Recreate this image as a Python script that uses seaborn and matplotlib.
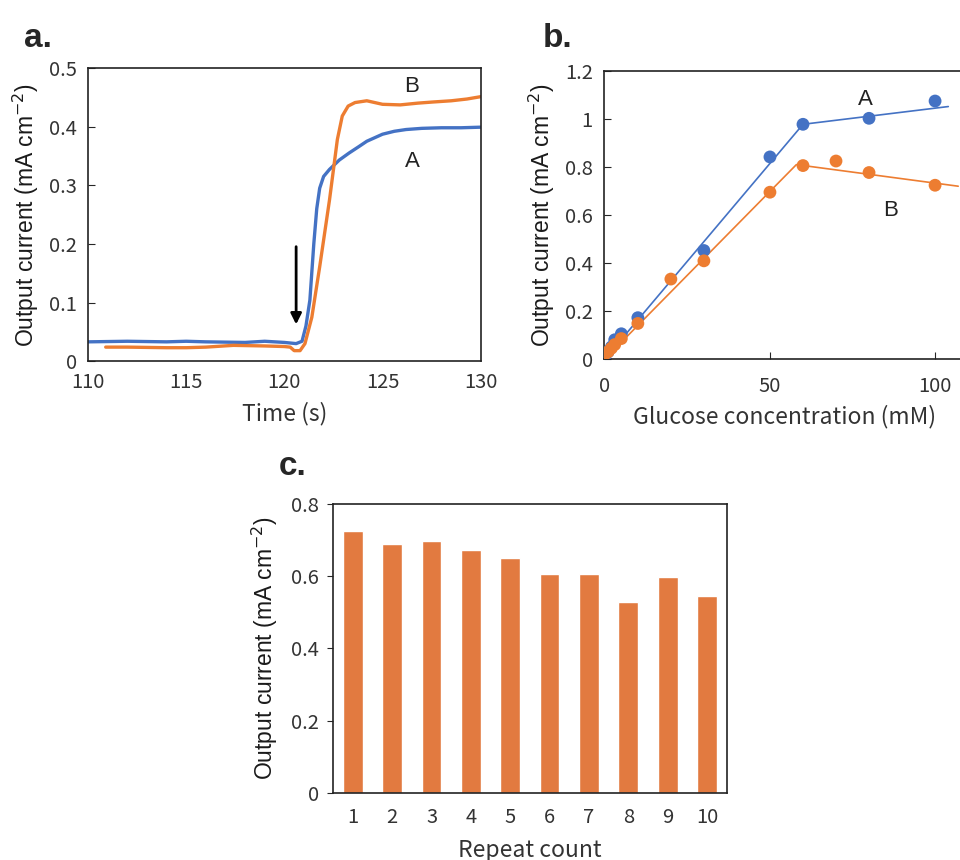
import matplotlib
matplotlib.use('Agg')
import matplotlib.pyplot as plt
import seaborn as sns
import pandas as pd

# --- datos panel a: corriente vs tiempo ---
a_time = [110, 112, 114, 115, 116, 118, 119, 120, 120.6, 120.9, 121.1, 121.3, 121.5, 121.65,
          121.8, 122.0, 122.3, 122.8, 123.3, 123.8, 124.2, 125.0, 125.6, 126.2, 127, 128, 129, 130]
a_curr_A = [0.033, 0.034, 0.033, 0.034, 0.033, 0.032, 0.034, 0.032, 0.030, 0.034, 0.06, 0.104, 0.20, 0.26,
            0.295, 0.315, 0.327, 0.343, 0.355, 0.366, 0.375, 0.387, 0.392, 0.395, 0.397, 0.398, 0.398, 0.399]
b_time = [110.9, 112, 114, 115, 116, 117.4, 119, 120, 120.3, 120.5, 120.8, 121.05, 121.4, 121.8,
          122.3, 122.7, 122.95, 123.25, 123.6, 124.2, 125.0, 125.9, 126.8, 127.6, 128.5, 129.3, 130]
a_curr_B = [0.024, 0.024, 0.023, 0.023, 0.024, 0.027, 0.026, 0.025, 0.024, 0.018, 0.018, 0.030, 0.075, 0.161,
            0.275, 0.378, 0.418, 0.435, 0.441, 0.444, 0.438, 0.437, 0.44, 0.442, 0.444, 0.447, 0.451]

# --- datos panel b: corriente vs concentracion de glucosa ---
conc_A = [0, 1, 2, 3, 5, 10, 30, 50, 60, 80, 100]
pts_A = [0.01, 0.03, 0.05, 0.08, 0.105, 0.172, 0.452, 0.842, 0.978, 1.003, 1.075]
conc_B = [0, 1, 2, 3, 5, 10, 20, 30, 50, 60, 70, 80, 100]
pts_B = [0.02, 0.03, 0.045, 0.06, 0.085, 0.148, 0.333, 0.409, 0.695, 0.806, 0.825, 0.777, 0.724]
fit_x_A = [0, 60, 104]
fit_y_A = [0.0, 0.978, 1.052]
fit_x_B = [0, 58, 107]
fit_y_B = [0.0, 0.81, 0.72]

# --- datos panel c: repeticiones ---
repeat = ['1', '2', '3', '4', '5', '6', '7', '8', '9', '10']
repeat_curr = [0.724, 0.689, 0.697, 0.673, 0.650, 0.607, 0.607, 0.529, 0.599, 0.545]

blue = '#4472C4'
orange = '#ED7D31'
bar_col = '#E27A40'

sns.set_style('ticks')
plt.rcParams['font.family'] = ['Noto Sans CJK JP', 'DejaVu Sans']
plt.rcParams['axes.linewidth'] = 1.2
plt.rcParams['axes.edgecolor'] = '#222222'

ylab = 'Output current (mA cm$^{-2}$)'
lab_font = dict(family=['Liberation Sans', 'DejaVu Sans'], fontsize=16.5, color='#1a1a1a')
xlab_font = dict(fontsize=16.5, color='#333333')
tick_size = 14.5

fig = plt.figure(figsize=(9.6, 8.6), dpi=100)
ax_a = fig.add_axes([0.0917, 0.580, 0.409, 0.341])
ax_b = fig.add_axes([0.629, 0.5826, 0.376, 0.3348])
ax_c = fig.add_axes([0.347, 0.078, 0.410, 0.336])

# Panel a
sns.lineplot(x=a_time, y=a_curr_A, ax=ax_a, color=blue, lw=2.4, sort=False)
sns.lineplot(x=b_time, y=a_curr_B, ax=ax_a, color=orange, lw=2.4, sort=False)
ax_a.annotate('', xy=(120.6, 0.058), xytext=(120.6, 0.2),
              arrowprops=dict(arrowstyle='-|>', color='black', lw=2, mutation_scale=16))
ax_a.text(126.5, 0.469, 'B', fontsize=16, family='Liberation Sans', ha='center', va='center', color='#222222')
ax_a.text(126.5, 0.34, 'A', fontsize=16, family='Liberation Sans', ha='center', va='center', color='#222222')
ax_a.set_xlim(110, 130)
ax_a.set_ylim(0, 0.5)
ax_a.set_xticks([110, 115, 120, 125, 130])
ax_a.set_yticks([0, 0.1, 0.2, 0.3, 0.4, 0.5])
ax_a.set_yticklabels(['0', '0.1', '0.2', '0.3', '0.4', '0.5'])
ax_a.tick_params(axis='x', length=0, labelsize=tick_size, pad=8, labelcolor='#333333')
ax_a.tick_params(axis='y', direction='in', length=5, labelsize=tick_size, pad=8, labelcolor='#333333')
ax_a.set_xlabel('Time (s)', labelpad=6, **xlab_font)
ax_a.set_ylabel(ylab, labelpad=6, **lab_font)
for s in ax_a.spines.values():
    s.set_visible(True)

# Panel b
sns.lineplot(x=fit_x_A, y=fit_y_A, ax=ax_b, color=blue, lw=1.2)
sns.lineplot(x=fit_x_B, y=fit_y_B, ax=ax_b, color=orange, lw=1.2)
sns.scatterplot(x=conc_A, y=pts_A, ax=ax_b, color=blue, s=85, edgecolor='none', zorder=3)
sns.scatterplot(x=conc_B, y=pts_B, ax=ax_b, color=orange, s=85, edgecolor='none', zorder=4)
ax_b.text(79, 1.08, 'A', fontsize=16, family='Liberation Sans', ha='center', va='center', color='#222222')
ax_b.text(86.5, 0.62, 'B', fontsize=16, family='Liberation Sans', ha='center', va='center', color='#222222')
ax_b.set_xlim(-0.3, 109)
ax_b.set_ylim(0, 1.2)
ax_b.set_xticks([0, 50, 100])
ax_b.set_yticks([0, 0.2, 0.4, 0.6, 0.8, 1.0, 1.2])
ax_b.set_yticklabels(['0', '0.2', '0.4', '0.6', '0.8', '1', '1.2'])
ax_b.tick_params(axis='x', direction='in', length=5, labelsize=tick_size, pad=12, labelcolor='#333333')
ax_b.tick_params(axis='y', direction='in', length=5, labelsize=tick_size, pad=8, labelcolor='#333333')
ax_b.set_xlabel('Glucose concentration (mM)', labelpad=6, **xlab_font)
ax_b.set_ylabel(ylab, labelpad=6, **lab_font)
ax_b.spines['right'].set_visible(False)
ax_b.spines['top'].set_visible(True)

# Panel c
df_c = pd.DataFrame({'repeat': repeat, 'current': repeat_curr})
sns.barplot(data=df_c, x='repeat', y='current', ax=ax_c, color=bar_col, width=0.5,
            saturation=1, errorbar=None)
ax_c.set_xlim(-0.5, 9.5)
ax_c.set_ylim(0, 0.8)
ax_c.set_yticks([0, 0.2, 0.4, 0.6, 0.8])
ax_c.set_yticklabels(['0', '0.2', '0.4', '0.6', '0.8'])
ax_c.tick_params(axis='x', length=0, labelsize=tick_size, pad=10, labelcolor='#333333')
ax_c.tick_params(axis='y', direction='out', length=4, labelsize=tick_size, pad=6, labelcolor='#333333')
ax_c.set_xlabel('Repeat count', labelpad=8, **xlab_font)
ax_c.set_ylabel(ylab, labelpad=8, **lab_font)
for s in ax_c.spines.values():
    s.set_visible(True)

# Etiquetas de panel
for x, y, t in [(0.025, 0.955, 'a.'), (0.565, 0.955, 'b.'), (0.29, 0.458, 'c.')]:
    fig.text(x, y, t, fontsize=24, fontweight='bold', family='Liberation Sans', va='center')

fig.savefig('out.png', dpi=100)
